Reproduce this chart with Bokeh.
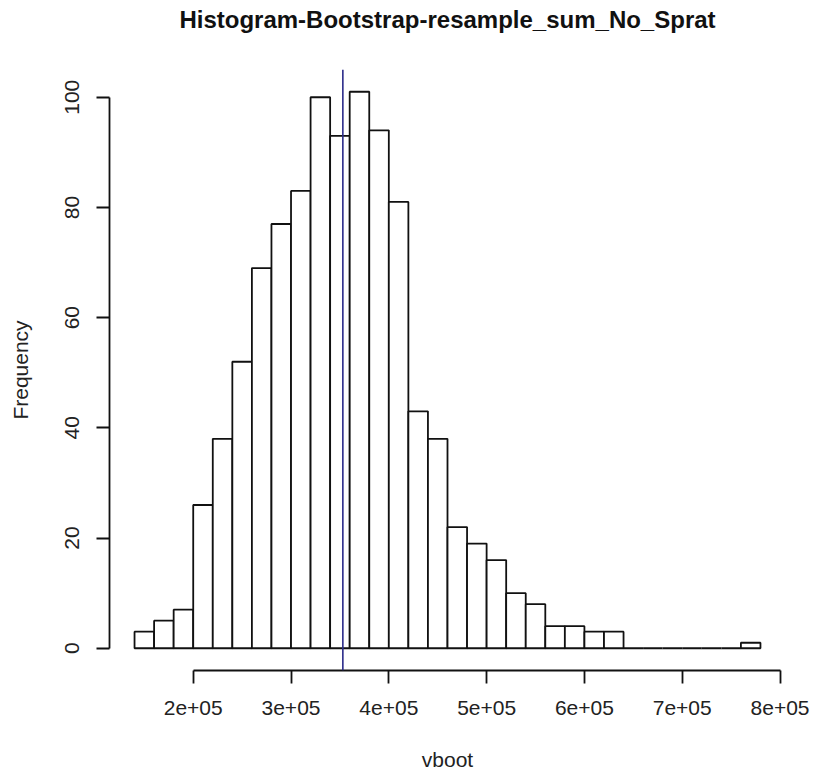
import numpy as np
from bokeh.plotting import figure
from bokeh.models import FixedTicker, Range1d, ColumnDataSource, Span, Title
from bokeh.embed import file_html
from bokeh.resources import INLINE

# ---- data ----
breaks = [140000, 160000, 180000, 200000, 220000, 240000, 260000, 280000,
          300000, 320000, 340000, 360000, 380000, 400000, 420000, 440000,
          460000, 480000, 500000, 520000, 540000, 560000, 580000, 600000,
          620000, 640000, 660000, 680000, 700000, 720000, 740000, 760000,
          780000]
counts = [3, 5, 7, 26, 38, 52, 69, 77, 83, 100, 93, 101, 94, 81, 43, 38,
          22, 19, 16, 10, 8, 4, 4, 3, 3, 0, 0, 0, 0, 0, 0, 1]
mean_line = 353000
x_ticks = [200000, 300000, 400000, 500000, 600000, 700000, 800000]
x_tick_labels = ["2e+05", "3e+05", "4e+05", "5e+05", "6e+05", "7e+05", "8e+05"]
y_ticks = [0, 20, 40, 60, 80, 100]

title = "Histogram-Bootstrap-resample_sum_No_Sprat"
xlab = "vboot"
ylab = "Frequency"

FONT = "Liberation Sans"

# R-style 4% axis extension
xmin, xmax = breaks[0], breaks[-1]
xr = (xmax - xmin) * 0.04
ymax = max(counts)
yr = ymax * 0.04

p = figure(width=814, height=773, output_backend="svg", toolbar_location=None,
           x_range=Range1d(xmin - xr, xmax + xr), y_range=Range1d(-yr, ymax + yr),
           min_border_left=109, min_border_right=29, min_border_top=69,
           min_border_bottom=103)
p.background_fill_color = "white"
p.border_fill_color = "white"
p.outline_line_color = None
p.xgrid.visible = False
p.ygrid.visible = False

src = ColumnDataSource(dict(left=breaks[:-1], right=breaks[1:],
                            top=counts, bottom=[0] * len(counts)))
p.quad(left="left", right="right", top="top", bottom="bottom", source=src,
       fill_color="white", line_color="#111111", line_width=1.8)

p.add_layout(Span(location=mean_line, dimension="height",
                  line_color="#2b2b8a", line_width=1.6))

# title: an empty spacer title next to the frame, then the main title above it
p.add_layout(Title(text=" ", text_font=FONT, text_font_size="24px",
                   standoff=8), "above")
p.add_layout(Title(text=title, text_font=FONT, text_font_size="24px",
                   text_font_style="bold", align="center",
                   vertical_align="bottom", text_color="#111111",
                   standoff=0), "above")

# x axis
xa = p.xaxis[0]
xa.ticker = FixedTicker(ticks=x_ticks)
xa.major_label_overrides = {t: l for t, l in zip(x_ticks, x_tick_labels)}
xa.bounds = (x_ticks[0], x_ticks[-1])
xa.axis_line_width = 1.8
xa.axis_line_color = "#111111"
xa.major_tick_line_width = 1.8
xa.major_tick_line_color = "#111111"
xa.major_tick_out = 13
xa.major_tick_in = 0
xa.minor_tick_line_color = None
xa.major_label_text_font = FONT
xa.major_label_text_font_size = "21px"
xa.major_label_text_color = "#222222"
xa.major_label_standoff = 17
xa.axis_label = xlab
xa.axis_label_text_font = FONT
xa.axis_label_text_font_size = "21px"
xa.axis_label_text_font_style = "normal"
xa.axis_label_text_color = "#222222"
xa.axis_label_standoff = 30

# y axis
ya = p.yaxis[0]
ya.ticker = FixedTicker(ticks=y_ticks)
ya.bounds = (y_ticks[0], y_ticks[-1])
ya.axis_line_width = 1.8
ya.axis_line_color = "#111111"
ya.major_tick_line_width = 1.8
ya.major_tick_line_color = "#111111"
ya.major_tick_out = 13
ya.major_tick_in = 0
ya.minor_tick_line_color = None
ya.major_label_orientation = "vertical"
ya.major_label_text_font = FONT
ya.major_label_text_font_size = "21px"
ya.major_label_text_color = "#222222"
ya.major_label_standoff = 17
ya.axis_label = ylab
ya.axis_label_text_font = FONT
ya.axis_label_text_font_size = "21px"
ya.axis_label_text_font_style = "normal"
ya.axis_label_text_color = "#222222"
ya.axis_label_standoff = 31

open("out.html", "w").write(file_html(p, INLINE))
